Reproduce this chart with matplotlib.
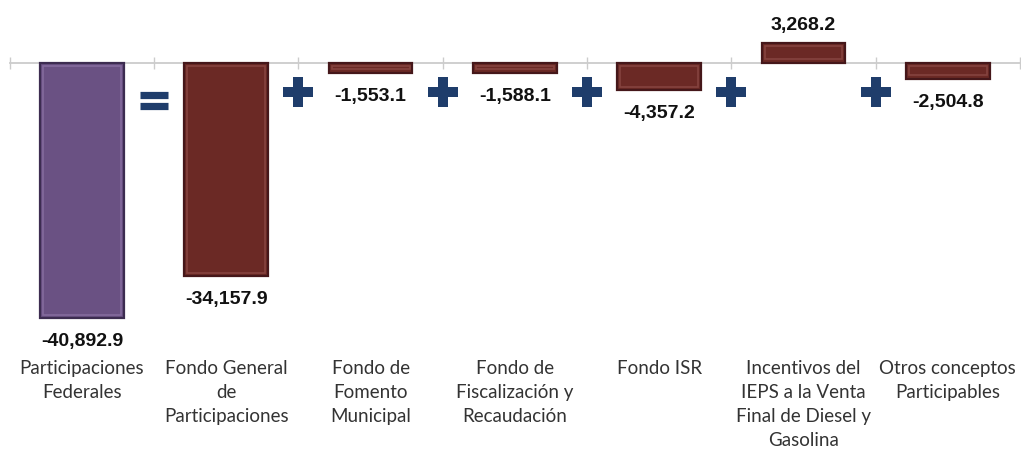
import matplotlib
matplotlib.use("Agg")
import matplotlib.pyplot as plt
import matplotlib.transforms as mtransforms

categories = [
    "Participaciones\nFederales",
    "Fondo General\nde\nParticipaciones",
    "Fondo de\nFomento\nMunicipal",
    "Fondo de\nFiscalización y\nRecaudación",
    "Fondo ISR",
    "Incentivos del\nIEPS a la Venta\nFinal de Diesel y\nGasolina",
    "Otros conceptos\nParticipables",
]
values = [-40892.9, -34157.9, -1553.1, -1588.1, -4357.2, 3268.2, -2504.8]
value_labels = ["-40,892.9", "-34,157.9", "-1,553.1", "-1,588.1", "-4,357.2", "3,268.2", "-2,504.8"]
operators = ["=", "+", "+", "+", "+", "+"]

purple = "#6a5183"
purple_edge = "#3c2c50"
purple_hi = "#8a72a3"
maroon = "#6b2925"
maroon_edge = "#45171a"
maroon_hi = "#8c4a45"
navy = "#1f3d6b"

fig = plt.figure(figsize=(10.21, 4.54), dpi=100)
ax = fig.add_axes([0, 0, 1, 1])
n = len(values)
x = list(range(n))
colors = [purple] + [maroon] * (n - 1)
edges = [purple_edge] + [maroon_edge] * (n - 1)
his = [purple_hi] + [maroon_hi] * (n - 1)

ax.set_xlim(-0.568, 6.507)
ax.set_ylim(-62700, 10100)

ax.bar(x, values, width=0.58, color=colors, edgecolor=edges, linewidth=1.6, zorder=3)

# subtle inner bevel highlight
px = (10100 + 62700) / 454.0  # data units per pixel
inset = 3.5 * px
for xi, v, hc in zip(x, values, his):
    sign = 1 if v > 0 else -1
    h = v - sign * 2 * inset
    ax.bar(xi, h, bottom=sign * inset, width=0.54, facecolor="none",
           edgecolor=hc, linewidth=1.2, alpha=0.8, zorder=3.5)

for s in ["top", "right", "left"]:
    ax.spines[s].set_visible(False)
ax.spines["bottom"].set_position(("data", 0))
ax.spines["bottom"].set_bounds(-0.5, n - 0.5)
ax.spines["bottom"].set_color("#cccccc")
ax.spines["bottom"].set_linewidth(1.3)
ax.set_xticks([i - 0.5 for i in range(n + 1)])
ax.set_xticklabels([])
ax.tick_params(axis="x", direction="inout", length=8, color="#cccccc", width=1)
ax.set_yticks([])

num_font = ["Liberation Sans Narrow", "Liberation Sans"]
for xi, v, lab in zip(x, values, value_labels):
    if v < 0:
        ax.annotate(lab, (xi, v), xytext=(0, -11), textcoords="offset points",
                    ha="center", va="top", fontsize=14, fontweight="bold",
                    family=num_font, color="#111111")
    else:
        ax.annotate(lab, (xi, v), xytext=(0, 6), textcoords="offset points",
                    ha="center", va="bottom", fontsize=14, fontweight="bold",
                    family=num_font, color="#111111")

trans = mtransforms.blended_transform_factory(ax.transData, ax.transAxes)
for xi, cat in zip(x, categories):
    ax.text(xi, 1 - 360 / 454, cat, transform=trans, ha="center", va="top",
            fontsize=13.5, family="Lato", color="#333333", linespacing=1.5)

for i, op in enumerate(operators):
    bx = i + 0.5
    if op == "+":
        ax.plot([bx], [1 - 92 / 454], marker="P", ms=21, color=navy,
                markeredgewidth=0, transform=trans, zorder=4)
    else:
        ax.plot([bx], [1 - 95 / 454], marker="_", ms=20, mew=5.2, color=navy,
                transform=trans, zorder=4)
        ax.plot([bx], [1 - 106 / 454], marker="_", ms=20, mew=5.2, color=navy,
                transform=trans, zorder=4)

fig.savefig("out.png", dpi=100)
